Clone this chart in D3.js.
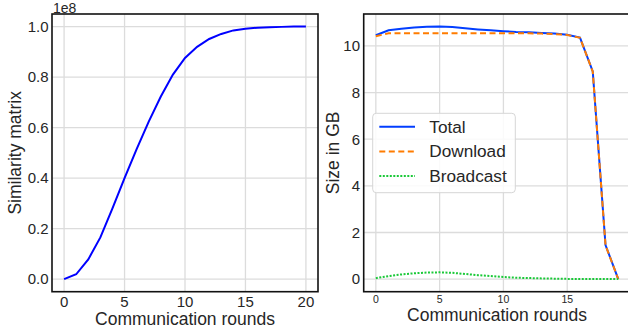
<!DOCTYPE html>
<html>
<head>
<meta charset="utf-8">
<script src="https://cdn.jsdelivr.net/npm/d3@7"></script>
<style>
  body { margin: 0; background: #fff; }
  text { font-family: "Liberation Sans", Arial, sans-serif; fill: #262626; }
</style>
</head>
<body>
<svg id="chart" width="628" height="327"></svg>
<script>
// left panel: similarity matrix (x 1e8) per round
var roundsLeft = d3.range(0, 21);
var similarity = [0.0, 0.019, 0.078, 0.165, 0.28, 0.40, 0.515, 0.624, 0.723, 0.81, 0.876,
                  0.92, 0.951, 0.971, 0.985, 0.992, 0.996, 0.998, 0.999, 1.0, 1.0];

// right panel: sizes in GB per round
var roundsRight = d3.range(0, 20);
var download  = [10.42, 10.54, 10.54, 10.54, 10.54, 10.54, 10.54, 10.54, 10.54, 10.54,
                 10.54, 10.54, 10.54, 10.53, 10.51, 10.47, 10.35, 8.9, 1.45, 0.0];
var broadcast = [0.04, 0.13, 0.2, 0.25, 0.28, 0.29, 0.27, 0.22, 0.17, 0.13,
                 0.09, 0.06, 0.045, 0.03, 0.02, 0.01, 0.01, 0.01, 0.01, 0.0];
var total     = [10.46, 10.67, 10.74, 10.79, 10.82, 10.83, 10.81, 10.76, 10.71, 10.67,
                 10.63, 10.6, 10.585, 10.56, 10.53, 10.48, 10.36, 8.91, 1.46, 0.0];

var leftXTicks = [0, 5, 10, 15, 20];
var leftYTicks = [0, 0.2, 0.4, 0.6, 0.8, 1.0];
var rightXTicks = [0, 5, 10, 15];
var rightYTicks = [0, 2, 4, 6, 8, 10];

var svg = d3.select("#chart");
var gridColor = "#dcdcdc";

// ---------- left panel ----------
var L = {left: 52, right: 318, top: 14, bottom: 291.7};
var xL = d3.scaleLinear().domain([-1, 21]).range([L.left, L.right]);
var yL = d3.scaleLinear().domain([-0.05, 1.05]).range([L.bottom, L.top]);

var gl = svg.append("g");
gl.selectAll(".gx").data(leftXTicks).enter().append("line")
  .attr("x1", d => xL(d)).attr("x2", d => xL(d))
  .attr("y1", L.top).attr("y2", L.bottom)
  .attr("stroke", gridColor).attr("stroke-width", 1.3);
gl.selectAll(".gy").data(leftYTicks).enter().append("line")
  .attr("y1", d => yL(d)).attr("y2", d => yL(d))
  .attr("x1", L.left).attr("x2", L.right)
  .attr("stroke", gridColor).attr("stroke-width", 1.3);

gl.append("path")
  .datum(roundsLeft)
  .attr("fill", "none").attr("stroke", "#0000ff").attr("stroke-width", 2)
  .attr("d", d3.line().x(d => xL(d)).y((d, i) => yL(similarity[i])));

gl.append("rect")
  .attr("x", L.left).attr("y", L.top)
  .attr("width", L.right - L.left).attr("height", L.bottom - L.top)
  .attr("fill", "none").attr("stroke", "#111").attr("stroke-width", 1.6);

gl.selectAll(".tx").data(leftXTicks).enter().append("text")
  .attr("x", d => xL(d)).attr("y", 306.5)
  .attr("text-anchor", "middle").style("font-size", "15px")
  .text(d => d);
gl.selectAll(".ty").data(leftYTicks).enter().append("text")
  .attr("x", 48.5).attr("y", d => yL(d) + 5.3)
  .attr("text-anchor", "end").style("font-size", "15px")
  .text(d => d3.format(".1f")(d));

gl.append("text").attr("x", 53).attr("y", 12.5)
  .style("font-size", "14px").text("1e8");

gl.append("text")
  .attr("x", (L.left + L.right) / 2).attr("y", 324.5)
  .attr("text-anchor", "middle").style("font-size", "17.5px")
  .text("Communication rounds");
gl.append("text")
  .attr("transform", "translate(21," + (L.top + L.bottom) / 2 + ") rotate(-90)")
  .attr("text-anchor", "middle").style("font-size", "17.5px")
  .text("Similarity matrix");

// ---------- right panel ----------
var R = {left: 363.7, right: 630.4, top: 14, bottom: 291.7};
var xR = d3.scaleLinear().domain([-0.95, 19.95]).range([R.left, R.right]);
var yR = d3.scaleLinear().domain([-0.54, 11.37]).range([R.bottom, R.top]);

var gr = svg.append("g");
gr.selectAll(".gx").data(rightXTicks).enter().append("line")
  .attr("x1", d => xR(d)).attr("x2", d => xR(d))
  .attr("y1", R.top).attr("y2", R.bottom)
  .attr("stroke", gridColor).attr("stroke-width", 1.3);
gr.selectAll(".gy").data(rightYTicks).enter().append("line")
  .attr("y1", d => yR(d)).attr("y2", d => yR(d))
  .attr("x1", R.left).attr("x2", R.right)
  .attr("stroke", gridColor).attr("stroke-width", 1.3);

var series = [
  {name: "Total", values: total, color: "#023eff", dash: null},
  {name: "Download", values: download, color: "#ff7c00", dash: "6,3.5"},
  {name: "Broadcast", values: broadcast, color: "#1ac938", dash: "2,1.5"}
];

var lineR = d3.line().x((d, i) => xR(roundsRight[i])).y(d => yR(d));
gr.selectAll(".series").data(series).enter().append("path")
  .attr("fill", "none")
  .attr("stroke", d => d.color).attr("stroke-width", 2)
  .attr("stroke-dasharray", d => d.dash)
  .attr("d", d => lineR(d.values));

gr.append("rect")
  .attr("x", R.left).attr("y", R.top)
  .attr("width", R.right - R.left).attr("height", R.bottom - R.top)
  .attr("fill", "none").attr("stroke", "#111").attr("stroke-width", 1.6);

gr.selectAll(".tx").data(rightXTicks).enter().append("text")
  .attr("x", d => xR(d)).attr("y", 302.5)
  .attr("text-anchor", "middle").style("font-size", "10.5px")
  .text(d => d);
gr.selectAll(".ty").data(rightYTicks).enter().append("text")
  .attr("x", 360).attr("y", d => yR(d) + 5.3)
  .attr("text-anchor", "end").style("font-size", "15px")
  .text(d => d);

gr.append("text")
  .attr("x", (R.left + R.right) / 2).attr("y", 321)
  .attr("text-anchor", "middle").style("font-size", "17.5px")
  .text("Communication rounds");
gr.append("text")
  .attr("transform", "translate(338.5," + (R.top + R.bottom) / 2 + ") rotate(-90)")
  .attr("text-anchor", "middle").style("font-size", "17.5px")
  .text("Size in GB");

// legend
var lg = gr.append("g");
lg.append("rect")
  .attr("x", 372.7).attr("y", 113.3).attr("width", 142.6).attr("height", 79.4)
  .attr("rx", 3.5).attr("fill", "#fff").attr("fill-opacity", 0.85)
  .attr("stroke", "#d6d6d6").attr("stroke-width", 1);
var rows = lg.selectAll(".row").data(series).enter().append("g")
  .attr("transform", (d, i) => "translate(0," + (126.7 + i * 24.7) + ")");
rows.append("line")
  .attr("x1", 379.3).attr("x2", 415).attr("y1", 0).attr("y2", 0)
  .attr("stroke", d => d.color).attr("stroke-width", 2)
  .attr("stroke-dasharray", d => d.dash);
rows.append("text")
  .attr("x", 429.3).attr("y", 6)
  .style("font-size", "17.2px")
  .text(d => d.name);
</script>
</body>
</html>
